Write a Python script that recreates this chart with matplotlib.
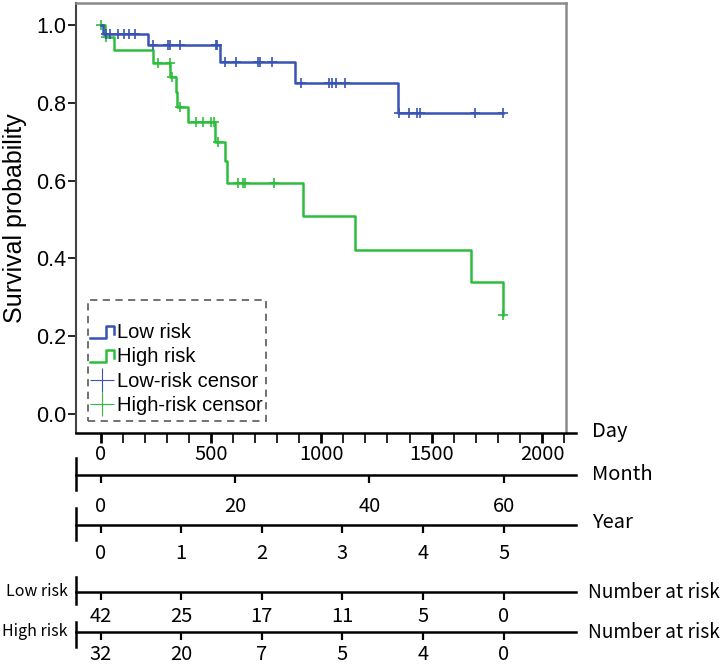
import numpy as np
import matplotlib
matplotlib.use('Agg')
import matplotlib.pyplot as plt
from matplotlib.lines import Line2D
from matplotlib.legend_handler import HandlerBase
from matplotlib.patches import Rectangle

# Kaplan-Meier steps (day, survival after the event)
low_t = [0, 12, 214, 541, 880, 1349]
low_s = [1.0, 0.976, 0.949, 0.906, 0.852, 0.774]
low_end = 1823
low_cens = [25, 45, 78, 105, 128, 156, 236, 305, 317, 358, 522, 529, 563, 613,
            713, 724, 775, 909, 1037, 1050, 1068, 1107, 1352, 1397, 1433, 1448,
            1697, 1823]

high_t = [0, 22, 63, 240, 317, 340, 346, 396, 519, 565, 575, 918, 1152, 1678, 1822]
high_s = [1.0, 0.969, 0.936, 0.902, 0.867, 0.828, 0.790, 0.751, 0.700, 0.650,
          0.593, 0.508, 0.422, 0.339, 0.254]
high_end = 1823
high_cens = [0, 25, 260, 313, 325, 361, 434, 464, 502, 512, 531, 624, 644, 654,
             786, 1823]

# number at risk, yearly
years = [0, 1, 2, 3, 4, 5]
low_at_risk = [42, 25, 17, 11, 5, 0]
high_at_risk = [32, 20, 7, 5, 4, 0]
months = [0, 20, 40, 60]

blue = '#3753b3'
green = '#2dbd3c'
cjk = 'Noto Sans CJK SC'
arial = 'Liberation Sans'

W, H = 725, 666
fig = plt.figure(figsize=(W / 100, H / 100), dpi=100)


def box(left, top, right, bottom):
    return [left / W, 1 - bottom / H, (right - left) / W, (bottom - top) / H]


def day_at(px):
    return (px - 100.5) / 0.22075


ax = fig.add_axes(box(76, 3, 566, 433))
ax.set_xlim(day_at(76), day_at(566))
ax.set_ylim(-0.0488, 1.0566)


def km(t, s, t_end, color, cens):
    ax.step(np.r_[t, t_end], np.r_[s, s[-1]], where='post', color=color, lw=1.8)
    idx = np.searchsorted(t, cens, side='right') - 1
    ax.plot(cens, np.array(s)[idx], ls='none', marker='+', ms=7, mew=1.2, color=color)


km(high_t, high_s, high_end, green, high_cens)
km(low_t, low_s, low_end, blue, low_cens)

ax.set_xticks([])
ax.set_yticks([0, 0.2, 0.4, 0.6, 0.8, 1.0])
ax.set_yticklabels(['0.0', '0.2', '0.4', '0.6', '0.8', '1.0'], fontsize=15.5, family=arial)
ax.tick_params(axis='y', direction='out', length=6, width=1.2, pad=1)
ax.spines['bottom'].set_visible(False)
ax.spines['left'].set_color('#444444')
ax.spines['left'].set_linewidth(1.5)
for s in ['top', 'right']:
    ax.spines[s].set_color('#8a8a8a')
    ax.spines[s].set_linewidth(1.8)
ax.set_ylabel('Survival probability', fontsize=18, family=arial, va='center')
ax.yaxis.set_label_coords(-0.125, 0.5)


class StepHandler(HandlerBase):
    def create_artists(self, legend, orig_handle, xdescent, ydescent, width, height,
                       fontsize, trans):
        x0 = -xdescent
        y0 = -ydescent
        xs = [x0, x0 + 0.68 * width, x0 + 0.68 * width, x0 + width, x0 + width]
        ys = [y0 + 0.0 * height, y0 + 0.0 * height, y0 + 0.85 * height,
              y0 + 0.85 * height, y0 + 0.3 * height]
        return [Line2D(xs, ys, color=orig_handle.get_color(), lw=1.8, transform=trans)]


h_low = Line2D([], [], color=blue)
h_high = Line2D([], [], color=green)
h_lc = Line2D([], [], ls='none', marker='+', ms=17, mew=0.8, color=blue)
h_hc = Line2D([], [], ls='none', marker='+', ms=17, mew=0.8, color=green)
ax.legend([h_low, h_high, h_lc, h_hc],
          ['Low risk', 'High risk', 'Low-risk censor', 'High-risk censor'],
          handler_map={h_low: StepHandler(), h_high: StepHandler()},
          loc='upper left', bbox_to_anchor=(0.0286, 0.256), borderaxespad=0,
          borderpad=0, frameon=False, prop={'family': arial, 'size': 14.5},
          handlelength=1.2, handletextpad=0.15, labelspacing=0.27)
ax.add_patch(Rectangle((0.0245, 0.0279), 0.363, 0.281, transform=ax.transAxes,
                       fill=False, edgecolor='#666666', lw=1.3, ls=(0, (4, 3))))


def row(y_line, top, bottom, show_left):
    a = fig.add_axes(box(76, top, 576, bottom))
    a.set_xlim(day_at(76), day_at(576))
    a.set_ylim(0, 1)
    a.patch.set_alpha(0)
    for s in ['top', 'right']:
        a.spines[s].set_visible(False)
    a.spines['left'].set_visible(show_left)
    a.spines['left'].set_linewidth(1.8)
    a.spines['bottom'].set_linewidth(1.8)
    a.spines['bottom'].set_position(('axes', (bottom - y_line) / (bottom - top)))
    a.set_yticks([])
    a.tick_params(axis='x', direction='out', length=6, width=1.6)
    return a


year_days = np.array(years) * 365.25

# day axis
ad = row(433, 430, 445, False)
ad.set_xticks(np.arange(0, 2200, 100), minor=True)
ad.set_xticks([0, 500, 1000, 1500, 2000])
ad.set_xticklabels(['0', '500', '1000', '1500', '2000'], fontsize=14.5, family=cjk)
ad.tick_params(axis='x', which='major', length=7, width=2, pad=1)
ad.tick_params(axis='x', which='minor', length=7, width=1.2)

am = row(475, 458, 490, True)
am.set_xticks(np.array(months) * 30.44)
am.set_xticklabels([str(m) for m in months], fontsize=14.5, family=cjk)
am.tick_params(axis='x', pad=9)

ay = row(525, 508, 540, True)
ay.set_xticks(year_days)
ay.set_xticklabels([str(y) for y in years], fontsize=14.5, family=cjk)
ay.tick_params(axis='x', pad=7)

al = row(592, 577, 604, True)
al.set_xticks(year_days)
al.set_xticklabels([str(n) for n in low_at_risk], fontsize=14.5, family=cjk)
al.tick_params(axis='x', pad=4)

ah = row(632, 622, 647, True)
ah.set_xticks(year_days)
ah.set_xticklabels([str(n) for n in high_at_risk], fontsize=14.5, family=cjk)
ah.tick_params(axis='x', pad=3)

for label, y in [('Day', 432), ('Month', 475), ('Year', 522)]:
    fig.text(592 / W, 1 - y / H, label, ha='left', va='center', fontsize=14.5, family=cjk)
for y in [592, 632]:
    fig.text(588 / W, 1 - y / H, 'Number at risk', ha='left', va='center',
             fontsize=13.8, family=cjk)
for label, y in [('Low risk', 592), ('High risk', 632)]:
    fig.text(68 / W, 1 - y / H, label, ha='right', va='center', fontsize=11.5, family=cjk)

fig.savefig('out.png', dpi=100)
